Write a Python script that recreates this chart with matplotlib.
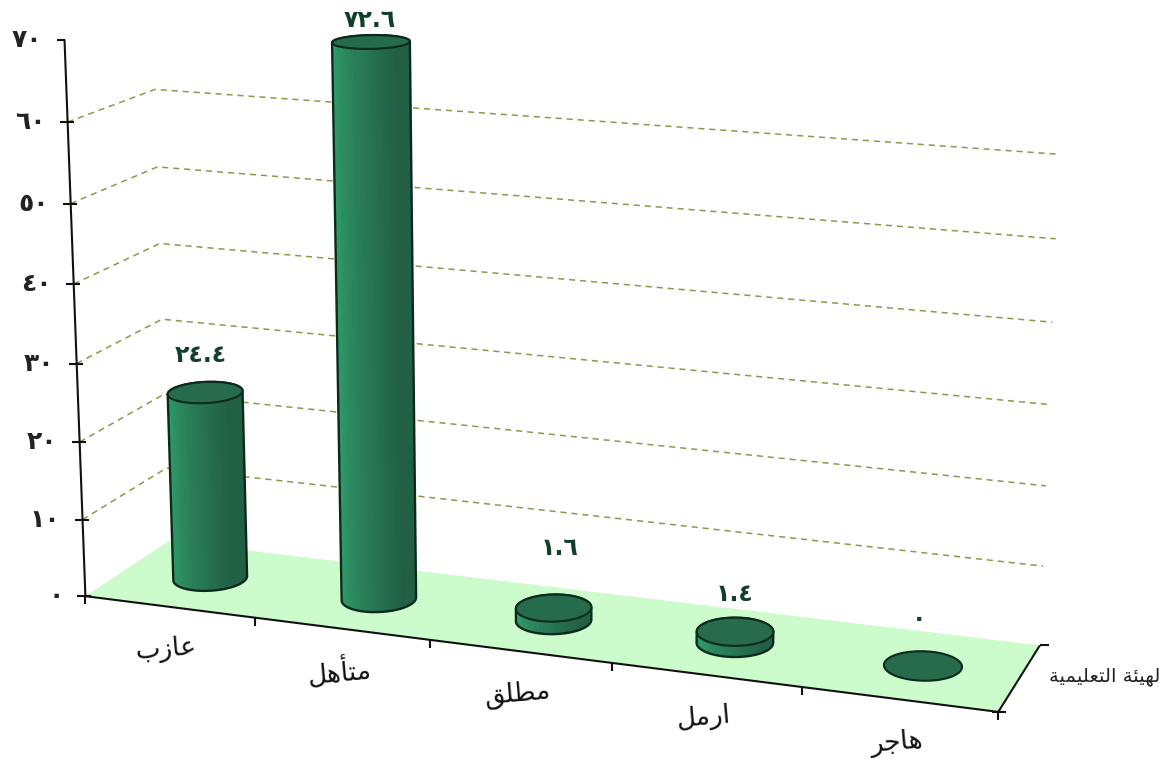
import numpy as np
import matplotlib
matplotlib.use("Agg")
import matplotlib.pyplot as plt
from matplotlib.patches import Polygon

# ---------- data ----------
categories = ['عازب', 'متأهل', 'مطلق', 'ارمل', 'هاجر']
values = [24.4, 72.6, 1.6, 1.4, 0.0]
value_ticks = [0, 10, 20, 30, 40, 50, 60, 70]
grid_values = [10, 20, 30, 40, 50, 60]
depth_title = 'لهيئة التعليمية'

# pixel nudges of the value labels, relative to each bar's top centre
label_nudge_x = [-4, -1, 6, 0, -4]
label_nudge_y = [-37, -22, -60, -38, -47]

# ---------- colours ----------
FLOOR = '#ccfccc'
GRID = '#94944e'
TOP = '#256b4c'
LIGHT = np.array([0x30, 0x9c, 0x6a]) / 255
DARK = np.array([0x22, 0x60, 0x46]) / 255
EDGE = '#0b2a1b'
LABEL = '#123f2a'

# ---------- Arabic shaping (matplotlib does no shaping or bidi) ----------
FORMS = {
    'ا': (0xFE8D, 0xFE8E), 'أ': (0xFE83, 0xFE84), 'ر': (0xFEAD, 0xFEAE),
    'ز': (0xFEAF, 0xFEB0), 'ة': (0xFE93, 0xFE94),
    'ب': (0xFE8F, 0xFE90, 0xFE91, 0xFE92), 'ت': (0xFE95, 0xFE96, 0xFE97, 0xFE98),
    'ج': (0xFE9D, 0xFE9E, 0xFE9F, 0xFEA0), 'ط': (0xFEC1, 0xFEC2, 0xFEC3, 0xFEC4),
    'ع': (0xFEC9, 0xFECA, 0xFECB, 0xFECC), 'ق': (0xFED5, 0xFED6, 0xFED7, 0xFED8),
    'ل': (0xFEDD, 0xFEDE, 0xFEDF, 0xFEE0), 'م': (0xFEE1, 0xFEE2, 0xFEE3, 0xFEE4),
    'ه': (0xFEE9, 0xFEEA, 0xFEEB, 0xFEEC), 'ي': (0xFEF1, 0xFEF2, 0xFEF3, 0xFEF4),
    'ئ': (0xFE89, 0xFE8A, 0xFE8B, 0xFE8C),
}


def shape(text):
    out = []
    for k, c in enumerate(text):
        if c not in FORMS:
            out.append(c)
            continue
        prev = text[k - 1] if k > 0 else ' '
        nxt = text[k + 1] if k + 1 < len(text) else ' '
        joins_prev = prev in FORMS and len(FORMS[prev]) == 4
        joins_next = nxt in FORMS and len(FORMS[c]) == 4
        f = FORMS[c]
        if joins_prev and joins_next:
            out.append(chr(f[3]))
        elif joins_prev:
            out.append(chr(f[1]))
        elif joins_next:
            out.append(chr(f[2]))
        else:
            out.append(chr(f[0]))
    return ''.join(reversed(out))


def arabic_digits(v):
    s = f'{v:g}'
    return s.translate(str.maketrans('0123456789', '٠١٢٣٤٥٦٧٨٩'))


# ---------- perspective camera of the 3-D chart box, fitted to its landmarks ----------
world = [(0, 0, 0), (1, 0, 0), (2, 0, 0), (3, 0, 0), (4, 0, 0), (5, 0, 0),
         (0, 10, 0), (0, 20, 0), (0, 30, 0), (0, 40, 0), (0, 50, 0), (0, 60, 0), (0, 70, 0),
         (0, 0, 1), (0, 40, 1), (0, 50, 1), (0, 60, 1),
         (5, 0, 1), (5, 10, 1), (5, 20, 1), (5, 30, 1), (5, 40, 1), (5, 50, 1), (5, 60, 1)]
screen = [(88, 597), (255, 618), (430, 640), (611, 663), (802, 687), (1000, 712),
          (84, 518), (80, 440), (77, 363), (73, 284), (70, 203), (66, 123), (62, 42),
          (165, 544), (160, 243), (160, 166), (157, 88),
          (1042, 645), (1040, 567), (1045, 485), (1047, 403), (1055, 322), (1055, 240), (1060, 155)]
A, B = [], []
for (X, Y, Z), (u, v) in zip(world, screen):
    A.append([X, Y, Z, 1, 0, 0, 0, 0, -u * X, -u * Y, -u * Z])
    A.append([0, 0, 0, 0, X, Y, Z, 1, -v * X, -v * Y, -v * Z])
    B += [u, v]
P = np.append(np.linalg.lstsq(np.array(A, float), np.array(B, float), rcond=None)[0], 1).reshape(3, 4)


def project(x, y, z):
    h = P @ np.vstack([np.asarray(x, float) * np.ones_like(z, float),
                       np.asarray(y, float) * np.ones_like(z, float),
                       np.asarray(z, float) * np.ones_like(x, float),
                       np.ones_like(np.asarray(x, float) * np.asarray(z, float))])
    return h[0] / h[2], h[1] / h[2]


def pt(x, y, z):
    u, v = project(np.array([x], float), np.array([y], float), np.array([z], float))
    return float(u[0]), float(v[0])


def hull(points):
    pts = sorted(set(map(tuple, points)))

    def half(seq):
        out = []
        for p in seq:
            while len(out) > 1 and ((out[-1][0] - out[-2][0]) * (p[1] - out[-2][1])
                                    - (out[-1][1] - out[-2][1]) * (p[0] - out[-2][0])) <= 0:
                out.pop()
            out.append(p)
        return out
    lo, up = half(pts), half(pts[::-1])
    return lo[:-1] + up[:-1]


# ---------- figure ----------
fig = plt.figure(figsize=(11.7, 7.63), dpi=100, facecolor='white')
ax = fig.add_axes([0, 0, 1, 1])
ax.set_xlim(0, 1170)
ax.set_ylim(763, 0)
ax.axis('off')

n = len(categories)
axis_max = value_ticks[-1]
# floor
ax.add_patch(Polygon([pt(0, 0, 0), pt(n, 0, 0), pt(n, 0, 1), pt(0, 0, 1)],
                     closed=True, fc=FLOOR, ec='none', zorder=1))
# gridlines on the two walls
for g in grid_values:
    p = [pt(0, g, 0), pt(0, g, 1), pt(n, g, 1)]
    ax.plot(*zip(*p), color=GRID, lw=1.1, dashes=(4, 3.2), zorder=2)

# axes
AX = dict(color='#111111', lw=1.5, zorder=3, solid_capstyle='butt')
ax.plot(*zip(pt(0, 0, 0), pt(0, axis_max, 0)), **AX)
ax.plot(*zip(pt(0, 0, 0), pt(n, 0, 0)), **AX)
ax.plot(*zip(pt(n, 0, 0), pt(n, 0, 1)), **AX)
for v in value_ticks:
    u, w = pt(0, v, 0)
    right = 0 if v == axis_max else 6
    ax.plot([u - 8, u + right], [w, w], **AX)
    ax.text(u - 22, w, arabic_digits(v), ha='right', va='center',
            fontsize=18, fontweight='bold', color='#222222', zorder=6)
for i in range(n + 1):
    u, w = pt(i, 0, 0)
    ax.plot([u, u], [w, w + 8], **AX)
u, w = pt(n, 0, 0)
ax.plot([u - 6, u + 8], [w, w], **AX)
u, w = pt(n, 0, 1)
ax.plot([u, u + 9], [w, w], **AX)

# cylinders (a bar above the axis maximum is cut off there, as in the source chart)
RX, RZ = 0.197, 0.215
theta = np.linspace(0, 2 * np.pi, 73)
for i, val in enumerate(values):
    cx, cz = i + 0.5, 0.5
    h = min(val, axis_max)
    xs = cx + RX * np.cos(theta)
    zs = cz + RZ * np.sin(theta)
    bu, bv = project(xs, np.zeros_like(xs), zs)
    tu, tv = project(xs, np.full_like(xs, h), zs)
    if h > 0:
        order = np.argsort(-np.sin(theta[:-1]))
        for k in order:
            t = (np.cos(theta[k] + np.pi / 72) + 1) / 2
            shade = np.clip((t - 0.1) / 0.85, 0, 1)
            col = LIGHT * (1 - shade) + DARK * shade
            ax.add_patch(Polygon([(bu[k], bv[k]), (bu[k + 1], bv[k + 1]),
                                  (tu[k + 1], tv[k + 1]), (tu[k], tv[k])],
                                 closed=True, fc=col, ec='none', antialiased=False, zorder=4))
        outline = hull(list(zip(bu, bv)) + list(zip(tu, tv)))
        ax.add_patch(Polygon(outline, closed=True, fc='none', ec=EDGE, lw=1.7, zorder=5))
    ax.add_patch(Polygon(list(zip(tu, tv)), closed=True, fc=TOP, ec=EDGE, lw=1.5, zorder=5))

    # value label
    lu, lv = pt(cx, h, cz)
    ax.text(lu + label_nudge_x[i], lv + label_nudge_y[i], arabic_digits(val),
            ha='center', va='center', fontsize=17, fontweight='bold',
            color=LABEL, zorder=6)
    # category label
    fu, fv = pt(cx, 0, 0)
    ax.text(fu - 3, fv + 43, shape(categories[i]), ha='center', va='center',
            fontsize=19, rotation=5, color='#111111', zorder=6)

ax.text(1105, 677, shape(depth_title), ha='center', va='center', fontsize=14,
        color='#222222', zorder=6)

fig.savefig('out.png', dpi=100, facecolor='white')
